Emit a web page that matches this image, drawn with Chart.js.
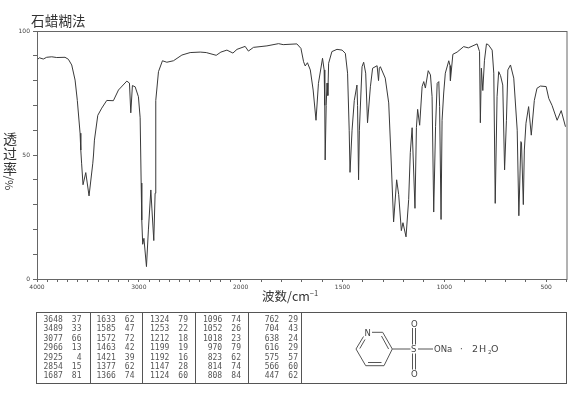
<!DOCTYPE html>
<html>
<head>
<meta charset="utf-8">
<style>
  html, body { margin: 0; background: #fff; overflow: hidden; }
  #page { position: relative; width: 570px; height: 394px; color: #333; }
  #page canvas { position: absolute; left: 0; top: 0; }
  .label { position: absolute; font-family: "Noto Sans CJK SC", sans-serif; white-space: nowrap; }
  .num { position: absolute; font: 8px/9px "DejaVu Sans Mono", monospace; color: #555; white-space: pre; }
  .rule { position: absolute; background: #555; }
  #structure { position: absolute; left: 0; top: 0; }
</style>
</head>
<body>
<div id="page">
  <canvas id="chartIr" width="570" height="394"></canvas>
  <div class="label" style="left:31px;top:11px;font-size:13.5px;line-height:18px;letter-spacing:.2px">石蜡糊法</div>
  <div class="label" style="left:3px;top:131px;font-size:14px;line-height:15px">透<br>过<br>率</div>
  <div class="label" style="left:3px;top:176px;width:14px;height:12px;font-size:11px;line-height:14px;text-align:center"><span style="display:inline-block;transform:rotate(90deg)">/%</span></div>
  <div class="label" style="left:262px;top:287px;font-size:12.5px;line-height:17px">波数/cm<sup style="font-size:7.5px;line-height:0">−1</sup></div>
  <div id="peakBox"></div>
  <svg id="structure" width="570" height="394" font-family="DejaVu Sans, sans-serif" font-size="8.5" fill="#444">
    <g stroke="#555" stroke-width="1" fill="none">
      <path d="M372 332.3H382.7L392.3 349L384 365.7H365.7L356 349L363.5 336.5"/>
      <path d="M381.5 336L388.6 349M381.5 362.5H368M359.8 348.5L365 339.5"/>
      <path d="M392.3 349H410.5M418 349H433"/>
      <path d="M412.5 328V344.5M415.5 328V344.5M412.5 353.5V369.5M415.5 353.5V369.5"/>
    </g>
    <text x="364.6" y="335.5">N</text>
    <text x="411" y="352">S</text>
    <text x="411" y="326.5">O</text>
    <text x="411" y="377">O</text>
    <text x="434" y="352">ONa</text>
    <text x="460" y="352">·</text>
    <text x="472" y="352" font-size="9.5" letter-spacing="1">2H</text>
    <text x="488" y="354" font-size="5.5">2</text>
    <text x="491" y="352" font-size="9.5">O</text>
  </svg>
</div>

<script src="https://cdn.jsdelivr.net/npm/chart.js@4/dist/chart.umd.min.js"></script>
<script>
const wavenumbers = [
  4000, 3977, 3938, 3905, 3855, 3806, 3725, 3692, 3659, 3626, 3604, 3577, 3570, 3562, 3548, 3521, 3489, 3452, 3445, 3436,
  3403, 3364, 3315, 3250, 3200, 3118, 3092, 3079, 3063, 3036, 3004, 2987, 2977, 2971, 2962, 2950, 2925, 2906, 2882, 2872,
  2853, 2840, 2835, 2832, 2807, 2768, 2725, 2660, 2577, 2496, 2397, 2338, 2240, 2194, 2135, 2076, 2036,
  1978, 1962, 1937, 1871, 1814, 1791, 1724, 1704, 1691, 1683, 1672, 1658, 1644, 1630, 1618, 1598, 1590, 1587, 1585, 1580,
  1576, 1572, 1568, 1552, 1527, 1502, 1486, 1475, 1467, 1463, 1453, 1442, 1429, 1426, 1421, 1417, 1404, 1396, 1386, 1377,
  1363, 1352, 1330, 1323, 1319, 1314, 1290, 1273, 1262, 1249, 1234, 1224, 1211, 1203, 1188, 1175, 1167, 1158, 1144, 1137,
  1131, 1121, 1109, 1101, 1093, 1079, 1068, 1060, 1052, 1043, 1035, 1027, 1023, 1016, 1011, 1003, 995, 978, 972, 970,
  958, 937, 905, 882, 839, 827, 823, 818, 811, 803, 793, 784, 765, 757, 750, 741, 733, 724, 713, 704, 695, 688, 675, 659,
  642, 634, 624, 621, 612, 607, 599, 586, 573, 558, 545, 528, 500, 487, 471, 446, 426, 405
];
const transmittance = [
  88.3, 89.2, 88.7, 89.4, 89.6, 89.3, 89.4, 88.6, 86.3, 80.2, 72, 58.8, 52, 46.7, 38, 42.9, 33.5, 46.7, 50, 56,
  66, 68.9, 72, 71.9, 76.2, 79.8, 79, 67, 78, 77.5, 73.5, 65, 38.7, 23.8, 14, 16.4, 5, 19.8, 35.9, 28.6,
  15.5, 34.6, 52, 72, 83.6, 88, 87.4, 88, 90.3, 91.3, 91.5, 91.3, 90.2, 91.5, 92.3, 91.1, 92.6,
  93.8, 91.9, 93.4, 94, 94.9, 94.5, 94.8, 93, 87.6, 85.9, 87.2, 84.3, 76.2, 64, 78.9, 89, 84.3, 70, 48, 70,
  79, 74, 87, 91.7, 92.6, 92.3, 91, 83, 60, 43, 60, 72, 78.2, 70, 40, 60, 85.6, 87.4, 83, 63,
  77.5, 85, 86, 80, 85, 85.6, 81, 71, 50, 23, 40, 34, 19.5, 22.7, 17, 32, 51, 61, 28.5, 61,
  68.4, 62, 77.6, 79.6, 77, 84, 82.3, 73.5, 27, 61.4, 78.9, 79.6, 69.5, 24, 64, 75, 83, 88, 86, 80,
  90.6, 91.5, 93.7, 93.2, 94.8, 91.7, 63, 85, 76, 88, 94.8, 94.5, 92.3, 83, 30.5, 73.5, 83.6, 82, 78.2, 44, 64, 84.3, 86.3, 81,
  60, 25.5, 55.4, 55, 30, 52, 62.8, 69.5, 58, 72, 76.9, 77.8, 77.6, 72.8, 70, 64, 67.9, 61.4
];
const xLabels = [4000, 3000, 2000, 1500, 1000, 500];
const yLabels = [0, 50, 100];

const peakColumns = [
  [['3648', 37], ['3489', 33], ['3077', 66], ['2966', 13], ['2925', 4], ['2854', 15], ['1687', 81]],
  [['1633', 62], ['1585', 47], ['1572', 72], ['1463', 42], ['1421', 39], ['1377', 62], ['1366', 74]],
  [['1324', 79], ['1253', 22], ['1212', 18], ['1199', 19], ['1192', 16], ['1147', 28], ['1124', 60]],
  [['1096', 74], ['1052', 26], ['1018', 23], ['970', 79], ['823', 62], ['814', 74], ['808', 84]],
  [['762', 29], ['704', 43], ['638', 24], ['616', 29], ['575', 57], ['566', 60], ['447', 62]]
];
const columnLeft = [43.5, 96.5, 150, 203, 260];

// wavenumber axis: the part below 2000 is drawn at twice the scale
const BREAK = 2000;
class IrScale extends Chart.LinearScale {
  units(v) { return v >= BREAK ? this.max - v : (this.max - BREAK) + (BREAK - v) * 2; }
  getPixelForValue(v) { return this.left + this.width * this.units(v) / this.units(this.min); }
}
IrScale.id = 'irscale';
IrScale.defaults = Chart.LinearScale.defaults;
Chart.register(IrScale);

const framePlugin = {
  id: 'frame',
  afterDraw(chart) {
    const { ctx, chartArea: a } = chart;
    ctx.save();
    ctx.strokeStyle = '#666';
    ctx.lineWidth = 1;
    ctx.strokeRect(a.left + .5, a.top + .5, a.right - a.left, a.bottom - a.top);
    ctx.restore();
  }
};

new Chart(document.getElementById('chartIr'), {
  type: 'line',
  data: {
    datasets: [{
      data: wavenumbers.map((w, i) => ({ x: w, y: transmittance[i] })),
      borderColor: '#3a3a3a', borderWidth: 1, pointRadius: 0, tension: 0, fill: false
    }]
  },
  plugins: [framePlugin],
  options: {
    responsive: false, animation: false, events: [],
    layout: { padding: { top: 31, right: 3.5, left: 0, bottom: 0 } },
    plugins: { legend: { display: false }, tooltip: { enabled: false }, title: { display: false } },
    scales: {
      x: {
        type: 'irscale', min: 400, max: 4000,
        afterFit: s => { s.height = 115; },
        grid: { drawOnChartArea: false, tickLength: 3, color: '#666' },
        border: { color: '#666' },
        ticks: {
          stepSize: 100, autoSkip: false, maxRotation: 0, padding: 2, color: '#444',
          font: { family: 'DejaVu Sans', size: 6 },
          callback: v => xLabels.includes(v) ? String(v) : ''
        }
      },
      y: {
        min: 0, max: 100,
        afterFit: s => { s.width = 37; },
        grid: { drawOnChartArea: false, tickLength: 4, color: '#666' },
        border: { color: '#666' },
        ticks: {
          stepSize: 10, autoSkip: false, padding: 3, color: '#444',
          font: { family: 'DejaVu Sans', size: 6 },
          callback: v => yLabels.includes(v) ? String(v) : ''
        }
      }
    }
  }
});

// peak table under the plot
const box = document.getElementById('peakBox');
let html = '';
[[36, 312, 531, 1], [36, 383, 531, 1], [36, 312, 1, 72], [566, 312, 1, 72],
 [90, 312, 1, 72], [142, 312, 1, 72], [195, 312, 1, 72], [248, 312, 1, 72], [301, 312, 1, 72]].forEach(r => {
  html += `<div class="rule" style="left:${r[0]}px;top:${r[1]}px;width:${r[2]}px;height:${r[3]}px"></div>`;
});
peakColumns.forEach((col, c) => {
  col.forEach((row, r) => {
    const top = 315 + r * 9.4;
    html += `<div class="num" style="left:${columnLeft[c]}px;top:${top}px;width:19.2px;text-align:right">${row[0]}</div>`;
    html += `<div class="num" style="left:${columnLeft[c] + 28}px;top:${top}px;width:10px;text-align:right">${row[1]}</div>`;
  });
});
box.innerHTML = html;
</script>
</body>
</html>
